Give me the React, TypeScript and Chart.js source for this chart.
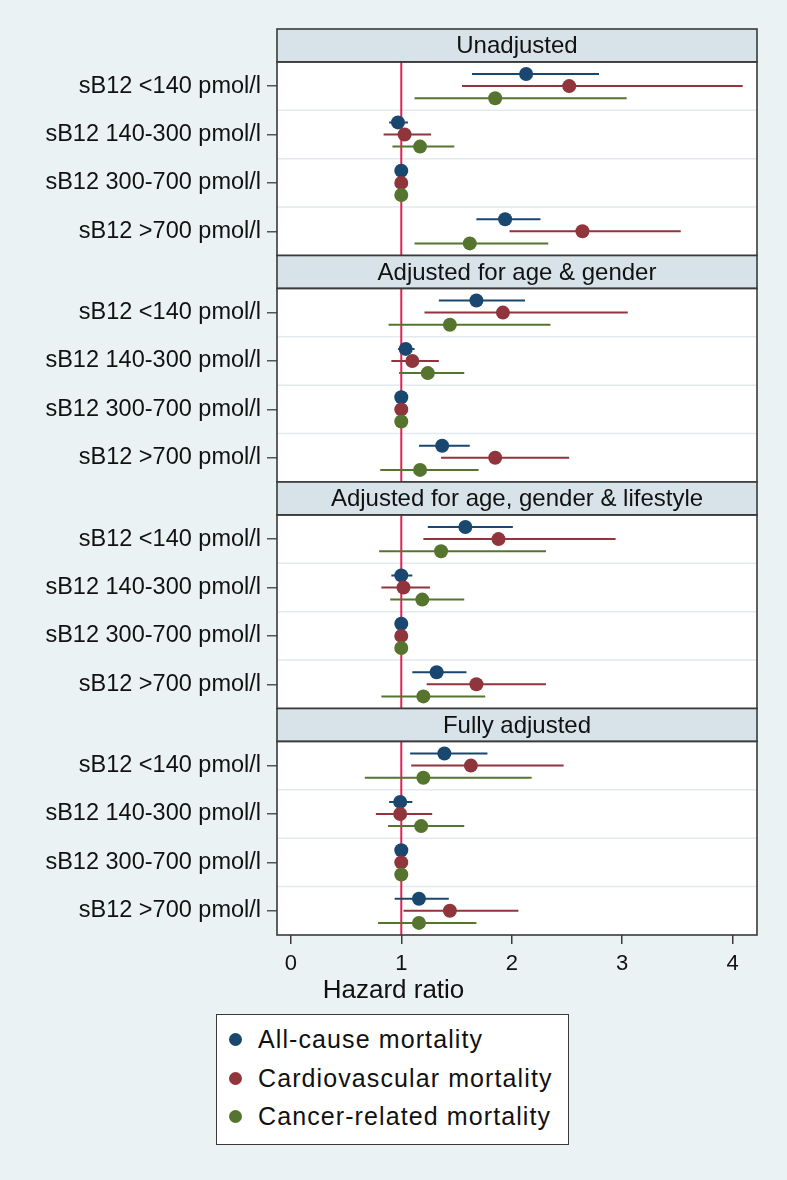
import React, { useEffect, useRef } from 'react';
import { Chart, registerables } from 'chart.js';

Chart.register(...registerables);

// ---------- data ----------
const rowLabels = ['sB12 <140 pmol/l', 'sB12 140-300 pmol/l', 'sB12 300-700 pmol/l', 'sB12 >700 pmol/l'];
const panelTitles = [
  'Unadjusted',
  'Adjusted for age & gender',
  'Adjusted for age, gender & lifestyle',
  'Fully adjusted',
];
const seriesNames = ['All-cause mortality', 'Cardiovascular mortality', 'Cancer-related mortality'];
const xTickValues = [0, 1, 2, 3, 4];

// [panel][row] hazard ratios and 95% CI bounds
const allCauseHR = [[2.13, 0.97, 1, 1.94], [1.68, 1.04, 1, 1.37], [1.58, 1.0, 1, 1.32], [1.39, 0.99, 1, 1.16]];
const allCauseLow = [[1.64, 0.89, 1, 1.68], [1.34, 0.97, 1, 1.16], [1.24, 0.91, 1, 1.1], [1.08, 0.89, 1, 0.94]];
const allCauseHigh = [[2.79, 1.06, 1, 2.26], [2.12, 1.12, 1, 1.62], [2.01, 1.1, 1, 1.59], [1.78, 1.1, 1, 1.43]];

const cardioHR = [[2.52, 1.03, 1, 2.64], [1.92, 1.1, 1, 1.85], [1.88, 1.02, 1, 1.68], [1.63, 0.99, 1, 1.44]];
const cardioLow = [[1.55, 0.84, 1, 1.98], [1.21, 0.91, 1, 1.36], [1.2, 0.82, 1, 1.23], [1.09, 0.77, 1, 1.02]];
const cardioHigh = [[4.09, 1.27, 1, 3.53], [3.05, 1.34, 1, 2.52], [2.94, 1.26, 1, 2.31], [2.47, 1.28, 1, 2.06]];

const cancerHR = [[1.85, 1.17, 1, 1.62], [1.44, 1.24, 1, 1.17], [1.36, 1.19, 1, 1.2], [1.2, 1.18, 1, 1.16]];
const cancerLow = [[1.12, 0.92, 1, 1.12], [0.885, 0.98, 1, 0.81], [0.8, 0.9, 1, 0.82], [0.67, 0.88, 1, 0.79]];
const cancerHigh = [[3.04, 1.48, 1, 2.33], [2.35, 1.57, 1, 1.7], [2.31, 1.57, 1, 1.76], [2.18, 1.57, 1, 1.68]];

const referenceHR = 1;

// ---------- style ----------
const seriesColors = ['#1A476F', '#90353B', '#55752F'];
const PAGE_BG = '#EAF2F3';
const STRIP_BG = '#D7E3E9';
const FRAME = '#3a3a3a';
const REF_COLOR = '#DC2454';
const FONT = "'Liberation Sans', Arial, Helvetica, sans-serif";

const HEADER = 0.68; // strip height in row units
const PANEL = 4 + HEADER;
const SERIES_GAP = 0.25;

const rowY = (p: number, r: number, s: number) => p * PANEL + HEADER + r + 0.5 + (s - 1) * SERIES_GAP;

const panelPlugin = {
  id: 'panels',
  beforeDatasetsDraw(chart: any) {
    const { ctx, chartArea: a, scales } = chart;
    const x = scales.x;
    const y = scales.y;
    ctx.save();
    for (let p = 0; p < panelTitles.length; p++) {
      const hTop = y.getPixelForValue(p * PANEL);
      const hBot = y.getPixelForValue(p * PANEL + HEADER);
      const pBot = y.getPixelForValue(p * PANEL + HEADER + rowLabels.length);
      // strip
      ctx.fillStyle = STRIP_BG;
      ctx.fillRect(a.left, hTop, a.right - a.left, hBot - hTop);
      // plot region
      ctx.fillStyle = '#ffffff';
      ctx.fillRect(a.left, hBot, a.right - a.left, pBot - hBot);
      // row separators
      ctx.strokeStyle = '#E1EAEE';
      ctx.lineWidth = 1.5;
      for (let r = 1; r < rowLabels.length; r++) {
        const yy = y.getPixelForValue(p * PANEL + HEADER + r);
        ctx.beginPath();
        ctx.moveTo(a.left, yy);
        ctx.lineTo(a.right, yy);
        ctx.stroke();
      }
      // reference line
      const rx = x.getPixelForValue(referenceHR);
      ctx.strokeStyle = REF_COLOR;
      ctx.lineWidth = 2;
      ctx.beginPath();
      ctx.moveTo(rx, hBot);
      ctx.lineTo(rx, pBot);
      ctx.stroke();
      // frames
      ctx.strokeStyle = FRAME;
      ctx.lineWidth = 1.6;
      ctx.strokeRect(a.left, hTop, a.right - a.left, hBot - hTop);
      ctx.strokeRect(a.left, hBot, a.right - a.left, pBot - hBot);
      // strip title
      ctx.fillStyle = '#111111';
      ctx.font = `24px ${FONT}`;
      ctx.textAlign = 'center';
      ctx.textBaseline = 'middle';
      ctx.fillText(panelTitles[p], (a.left + a.right) / 2, (hTop + hBot) / 2 + 1);
    }
    ctx.restore();
  },
};

export default function App() {
  const canvasRef = useRef<HTMLCanvasElement | null>(null);

  useEffect(() => {
    if (!canvasRef.current) return;
    const hrs = [allCauseHR, cardioHR, cancerHR];
    const lows = [allCauseLow, cardioLow, cancerLow];
    const highs = [allCauseHigh, cardioHigh, cancerHigh];
    const datasets: any[] = [];
    hrs.forEach((hr, s) => {
      const ci: any[] = [];
      const pts: any[] = [];
      hr.forEach((rows, p) =>
        rows.forEach((v, r) => {
          const yy = rowY(p, r, s);
          ci.push({ x: lows[s][p][r], y: yy }, { x: highs[s][p][r], y: yy }, { x: null, y: null });
          pts.push({ x: v, y: yy });
        })
      );
      datasets.push({
        label: seriesNames[s] + ' CI',
        data: ci,
        showLine: true,
        spanGaps: false,
        borderColor: seriesColors[s],
        borderWidth: 2,
        pointRadius: 0,
        order: 10 + s,
      });
      datasets.push({
        label: seriesNames[s],
        data: pts,
        showLine: false,
        pointRadius: 7,
        pointBorderWidth: 0,
        backgroundColor: seriesColors[s],
        borderColor: seriesColors[s],
        order: 3 - s,
      });
    });

    const chart = new Chart(canvasRef.current, {
      type: 'scatter',
      data: { datasets },
      plugins: [panelPlugin],
      options: {
        animation: false,
        responsive: false,
        devicePixelRatio: 1,
        layout: { padding: { left: 30, right: 30, top: 29, bottom: 8 } },
        scales: {
          x: {
            type: 'linear',
            min: -0.125,
            max: 4.22,
            afterBuildTicks: (scale: any) => {
              scale.ticks = xTickValues.map((v) => ({ value: v }));
            },
            ticks: {
              font: { family: FONT, size: 22, lineHeight: 1.2 },
              color: '#111111',
              padding: 6.8,
              callback: (v: any) => String(v),
            },
            grid: {
              drawOnChartArea: false,
              drawTicks: true,
              tickLength: 9,
              color: FRAME,
              lineWidth: 1.5,
            },
            border: { display: false },
          },
          y: {
            type: 'linear',
            reverse: true,
            min: 0,
            max: PANEL * panelTitles.length,
            afterFit: (scale: any) => {
              scale.width = 247;
            },
            afterBuildTicks: (scale: any) => {
              const t: any[] = [];
              panelTitles.forEach((_, p) => rowLabels.forEach((_l, r) => t.push({ value: rowY(p, r, 1) })));
              scale.ticks = t;
            },
            ticks: {
              font: { family: FONT, size: 23.5 },
              color: '#111111',
              padding: 6,
              autoSkip: false,
              callback: (_v: any, i: number) => rowLabels[i % rowLabels.length],
            },
            grid: {
              drawOnChartArea: false,
              drawTicks: true,
              tickLength: 10,
              color: '#555555',
              lineWidth: 1.5,
            },
            border: { display: false },
          },
        },
        plugins: {
          legend: { display: false },
          tooltip: { enabled: false },
          title: {
            display: true,
            text: 'Hazard ratio',
            position: 'bottom',
            align: 'center',
            color: '#111111',
            font: { family: FONT, size: 26, weight: 'normal', lineHeight: 0.5 },
            padding: { top: 0, bottom: 0 },
          },
        },
      } as any,
    });
    return () => chart.destroy();
  }, []);

  const legendRows = seriesNames.map((name, i) => (
    <div key={name} style={{ display: 'flex', alignItems: 'center', height: 38.7 }}>
      <span
        style={{
          display: 'inline-block',
          width: 13,
          height: 13,
          borderRadius: '50%',
          background: seriesColors[i],
          marginLeft: 12,
          marginRight: 16,
        }}
      />
      <span style={{ fontFamily: FONT, fontSize: 25, letterSpacing: '1.1px', color: '#111111' }}>{name}</span>
    </div>
  ));

  return (
    <div style={{ position: 'absolute', left: 0, top: 0, width: 787, height: 1180, background: PAGE_BG, overflow: 'hidden' }}>
      <canvas ref={canvasRef} width={787} height={1005} style={{ position: 'absolute', left: 0, top: 0, display: 'block' }} />
      <div
        style={{
          position: 'absolute',
          left: 216,
          top: 1014,
          width: 351,
          height: 124,
          background: '#ffffff',
          border: `1.5px solid ${FRAME}`,
          paddingTop: 5,
          boxSizing: 'content-box',
        }}
      >
        {legendRows}
      </div>
    </div>
  );
}
